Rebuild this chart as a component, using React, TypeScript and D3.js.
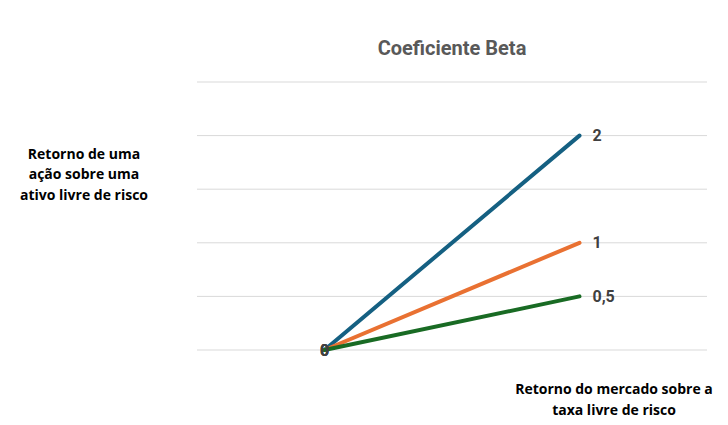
import React from "react";
import * as d3 from "d3";

const categories = ["A", "B"];
const seriesNames = ["Beta 2", "Beta 1", "Beta 0,5"];
const seriesValues = [
  [0, 2],
  [0, 1],
  [0, 0.5],
];
const endLabels = ["2", "1", "0,5"];
const yTicks = [0, 0.5, 1, 1.5, 2, 2.5];
const colors = ["#156082", "#E97132", "#196B24"];

const W = 728;
const H = 425;
const plot = { left: 197, right: 707, top: 82, bottom: 350 };

export default function App() {
  const x = d3.scaleBand<string>().domain(categories).range([plot.left, plot.right]);
  const y = d3.scaleLinear().domain([0, 2.5]).range([plot.bottom, plot.top]);
  const cx = (c: string) => (x(c) as number) + x.bandwidth() / 2;
  const line = d3
    .line<number>()
    .x((_, i) => cx(categories[i]))
    .y((d) => y(d));
  const font = "'Open Sans', 'Noto Sans', sans-serif";
  const labelFont = "Roboto, sans-serif";
  return (
    <svg
      width={W}
      height={H}
      style={{ position: "absolute", left: 0, top: 0, background: "#fff" }}
    >
      {yTicks.map((t) => (
        <line
          key={t}
          x1={plot.left}
          x2={plot.right}
          y1={y(t)}
          y2={y(t)}
          stroke="#d9d9d9"
          strokeWidth={1}
        />
      ))}
      {seriesValues.map((s, i) => (
        <path
          key={seriesNames[i]}
          d={line(s) as string}
          fill="none"
          stroke={colors[i]}
          strokeWidth={4}
          strokeLinecap="round"
        />
      ))}
      {seriesValues.map((s, i) => (
        <text
          key={"l" + i}
          x={cx(categories[1]) + 13}
          y={y(s[1])}
          dy="0.35em"
          fontFamily={labelFont}
          fontWeight="bold"
          fontSize={16}
          fill="#404040"
        >
          {endLabels[i]}
        </text>
      ))}
      {seriesValues.map((s, i) => (
        <text
          key={"z" + i}
          x={cx(categories[0])}
          y={y(s[0])}
          dy="0.35em"
          textAnchor="middle"
          fontFamily={labelFont}
          fontWeight="bold"
          fontSize={16}
          fill="#404040"
        >
          0
        </text>
      ))}
      <text
        x={(plot.left + plot.right) / 2}
        y={55}
        textAnchor="middle"
        fontFamily={labelFont}
        fontWeight="bold"
        fontSize={20}
        fill="#595959"
      >
        Coeficiente Beta
      </text>
      <text
        textAnchor="middle"
        fontFamily={font}
        fontWeight="bold"
        fontSize={14}
        fill="#000"
      >
        <tspan x={84} y={159}>Retorno de uma</tspan>
        <tspan x={84} y={179}>ação sobre uma</tspan>
        <tspan x={84} y={200}>ativo livre de risco</tspan>
      </text>
      <text
        textAnchor="middle"
        fontFamily={font}
        fontWeight="bold"
        fontSize={14}
        fill="#000"
      >
        <tspan x={614} y={394}>Retorno do mercado sobre a</tspan>
        <tspan x={614} y={415}>taxa livre de risco</tspan>
      </text>
    </svg>
  );
}
